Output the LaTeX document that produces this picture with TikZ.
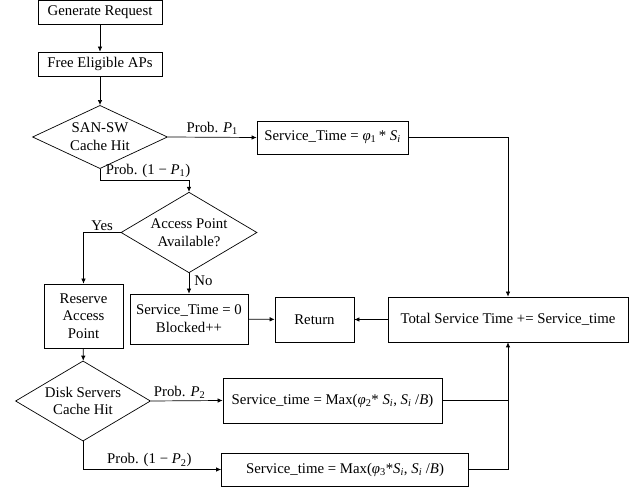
\documentclass[tikz,border=0pt]{standalone}
\usepackage{fontspec}
\setmainfont{Liberation Serif}
\usetikzlibrary{shapes.geometric,arrows.meta}
\newcommand{\vphi}{\textit{φ}}
\newcommand{\Si}{\textit{S}\textsubscript{\textit{i}}}
\begin{document}
\begin{tikzpicture}[x=1pt,y=-1pt,
  font=\fontsize{14.8}{17.7}\selectfont,
  every path/.style={line width=0.7pt},
  box/.style={draw, inner sep=0pt, align=center},
  dec/.style={draw, diamond, inner sep=-6pt, align=center},
  arr/.style={-{Latex[length=5pt,width=4.5pt]}},
  lbl/.style={inner sep=2pt}]
\useasboundingbox (0,0) rectangle (641,489);
\node[box, minimum width=124pt, minimum height=24pt] (gen) at (100,12.5) {Generate Request};
\node[box, minimum width=124pt, minimum height=24pt] (free) at (100,64) {Free Eligible APs};
\node[dec, minimum width=135pt, minimum height=55pt] (san) at (100,137) {SAN-SW\\Cache Hit};
\node[box, minimum width=151pt, minimum height=33pt] (st1) at (332.5,137.5) {Service\_Time = \vphi\textsubscript{1}\,* \Si};
\node[dec, minimum width=136pt, minimum height=69pt] (ap) at (189,232.5) {Access Point\\Available?};
\node[box, minimum width=79pt, minimum height=64pt] (res) at (83.5,316) {Reserve\\Access\\Point};
\node[box, minimum width=118pt, minimum height=50pt] (st0) at (189,319) {Service\_Time = 0\\Blocked++};
\node[box, minimum width=79pt, minimum height=45pt] (ret) at (314.5,319.5) {Return};
\node[box, minimum width=240pt, minimum height=45pt] (tot) at (508,319.5) {Total Service Time += Service\_time};
\node[dec, minimum width=135pt, minimum height=60pt] (disk) at (83,401) {Disk Servers\\Cache Hit};
\node[box, minimum width=219pt, minimum height=45pt] (mx1) at (332.5,400.5) {Service\_time = Max(\vphi\textsubscript{2}* \Si, \Si\ /\textit{B})};
\node[box, minimum width=247pt, minimum height=33pt] (mx2) at (345,469.5) {Service\_time = Max(\vphi\textsubscript{3}*\Si, \Si\ /\textit{B})};
\coordinate (c1) at (100,180);
\coordinate (c2) at (83,469.5);

\draw[arr] (gen) -- (free);
\draw[arr] (free) -- (san);
\draw[arr] (san.east) -- node[lbl, above] {Prob. \textit{P}\textsubscript{1}} (st1.west);
\draw[arr] (san.south) -- (c1) -- node[lbl, above, pos=0.54] {Prob. (1 − \textit{P}\textsubscript{1})} (c1 -| ap.north) -- (ap.north);
\draw[arr] (ap.west) -- node[lbl, above] {Yes} (ap.west -| res.north) -- (res.north);
\draw[arr] (ap.south) -- node[lbl, right, pos=0.35, xshift=3pt] {No} (st0.north);
\draw[arr] (st0) -- (ret);
\draw[arr] (tot) -- (ret);
\draw[arr] (st1.east) -| (tot.north);
\draw[arr] (res) -- (disk);
\draw[arr] (disk.east) -- node[lbl, above, pos=0.4] {Prob. \textit{P}\textsubscript{2}} (mx1.west);
\draw[arr] (disk.south) -- (c2) -- node[lbl, above, pos=0.48] {Prob. (1 − \textit{P}\textsubscript{2})} (mx2.west);
\draw[arr] (mx2.east) -| (tot.south);
\draw (mx1.east) -- (mx1.east -| tot.south);
\end{tikzpicture}
\end{document}
